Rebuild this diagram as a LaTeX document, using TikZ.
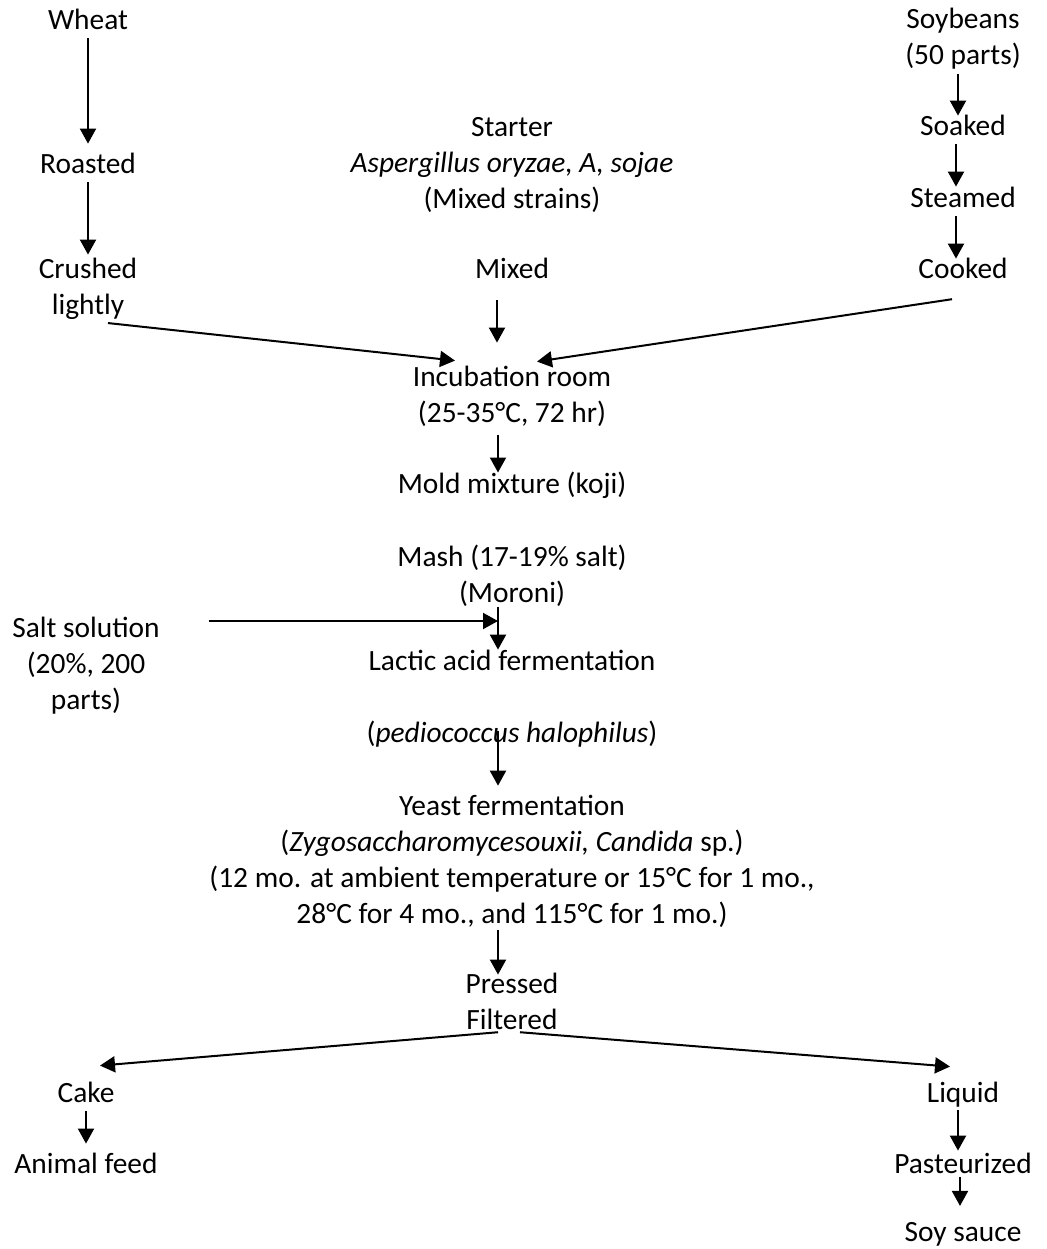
\documentclass[tikz,border=0pt]{standalone}
\usepackage{fontspec}
\setmainfont{Carlito}
\usepackage{tikz}
\usetikzlibrary{arrows.meta}

\begin{document}
\begin{tikzpicture}[->,>={Triangle[length=7.5pt,width=8pt]},line width=1pt,
  x=0.5pt,y=-0.5pt]
  \tikzstyle{every node}=[align=center,anchor=base,inner sep=4pt,
    font=\fontsize{14.7}{18}\selectfont]
  \useasboundingbox (0,0) rectangle (1046,1249);

  % base of a node = baseline of its last line
  \node (wheat)   at (88,29)   {Wheat};
  \node (roasted) at (88,173)  {Roasted};
  \node (crushed) at (88,314)  {Crushed\\lightly};
  \node (soy)     at (963,64)  {Soybeans\\(50 parts)};
  \node (soaked)  at (963,135) {Soaked};
  \node (steamed) at (963,207) {Steamed};
  \node (cooked)  at (963,278) {Cooked};
  \node (starter) at (512,208) {Starter\\\textit{Aspergillus oryzae, A, sojae}\\(Mixed strains)};
  \node (mixed)   at (512,278) {Mixed};
  \node (incub)   at (512,422) {Incubation room\\(25-35°C, 72 hr)};
  \node (mold)    at (512,493) {Mold mixture (koji)};
  \node (mash)    at (512,602) {Mash (17-19\% salt)\\(Moroni)};
  \node (salt)    at (86,709)  {Salt solution\\(20\%, 200\\parts)};
  \node (lactic)  at (512,670) {Lactic acid fermentation};
  \node (pedio)   at (512,742) {(\textit{pediococcus halophilus})};
  \node (yeast)   at (512,923) {Yeast fermentation\\(\textit{Zygosaccharomycesouxii, Candida} sp.)\\(12 mo. at ambient temperature or 15°C for 1 mo.,\\28°C for 4 mo., and 115°C for 1 mo.)};
  \node (pressed) at (512,1029) {Pressed\\Filtered};
  \node (cake)    at (86,1102) {Cake};
  \node (feed)    at (86,1173) {Animal feed};
  \node (liquid)  at (963,1102) {Liquid};
  \node (past)    at (963,1173) {Pasteurized};
  \node (sauce)   at (963,1241) {Soy sauce};
  \coordinate (join) at (498,621);

  \path (wheat) edge (roasted)
        (roasted) edge [shorten >=-3pt] (crushed)
        ([xshift=-2.5pt]soy.south) edge [shorten <=-2pt,shorten >=-5pt] ([xshift=-2.5pt]soaked.north)
        ([xshift=-3.5pt]soaked.south) edge [shorten >=-4.5pt] ([xshift=-3.5pt]steamed.north)
        ([xshift=-3.5pt]steamed.south) edge [shorten >=-5pt] ([xshift=-3.5pt]cooked.north)
        ([xshift=-7.5pt]mixed.south) edge [shorten <=6.5pt,shorten >=7pt] ([xshift=-7.5pt]incub.north)
        ([xshift=10pt,yshift=2.5pt]crushed.south) edge ([xshift=-28.5pt,yshift=-2pt]incub.north)
        ([xshift=-5.5pt,yshift=-6pt]cooked.south) edge ([xshift=12.5pt,yshift=-2.5pt]incub.north)
        ([xshift=-7pt]incub.south) edge [shorten >=-5pt] ([xshift=-7pt]mold.north)
        ([xshift=-7pt]mash.south) edge [shorten <=-4pt,shorten >=-4.5pt] ([xshift=-7pt]lactic.north)
        (join -| salt.east) edge [shorten <=20pt] (join)
        ([xshift=-7pt]pedio.south) edge [shorten <=-12.5pt] ([xshift=-7pt]yeast.north)
        ([xshift=-7pt]yeast.south) edge [shorten <=-3pt,shorten >=-5.5pt] ([xshift=-7pt]pressed.north)
        ([xshift=-7pt,yshift=3pt]pressed.south) edge ([xshift=7pt,yshift=3.5pt]cake.north)
        ([xshift=4pt,yshift=3pt]pressed.south) edge ([xshift=-6.5pt,yshift=3pt]liquid.north)
        (cake) edge (feed)
        ([xshift=-2.5pt]liquid.south) edge [shorten <=-3pt,shorten >=-3.5pt] ([xshift=-2.5pt]past.north)
        ([xshift=-1.5pt]past.south) edge [shorten <=-2.5pt,shorten >=3.5pt] ([xshift=-1.5pt]sauce.north)
        ;
\end{tikzpicture}
\end{document}
